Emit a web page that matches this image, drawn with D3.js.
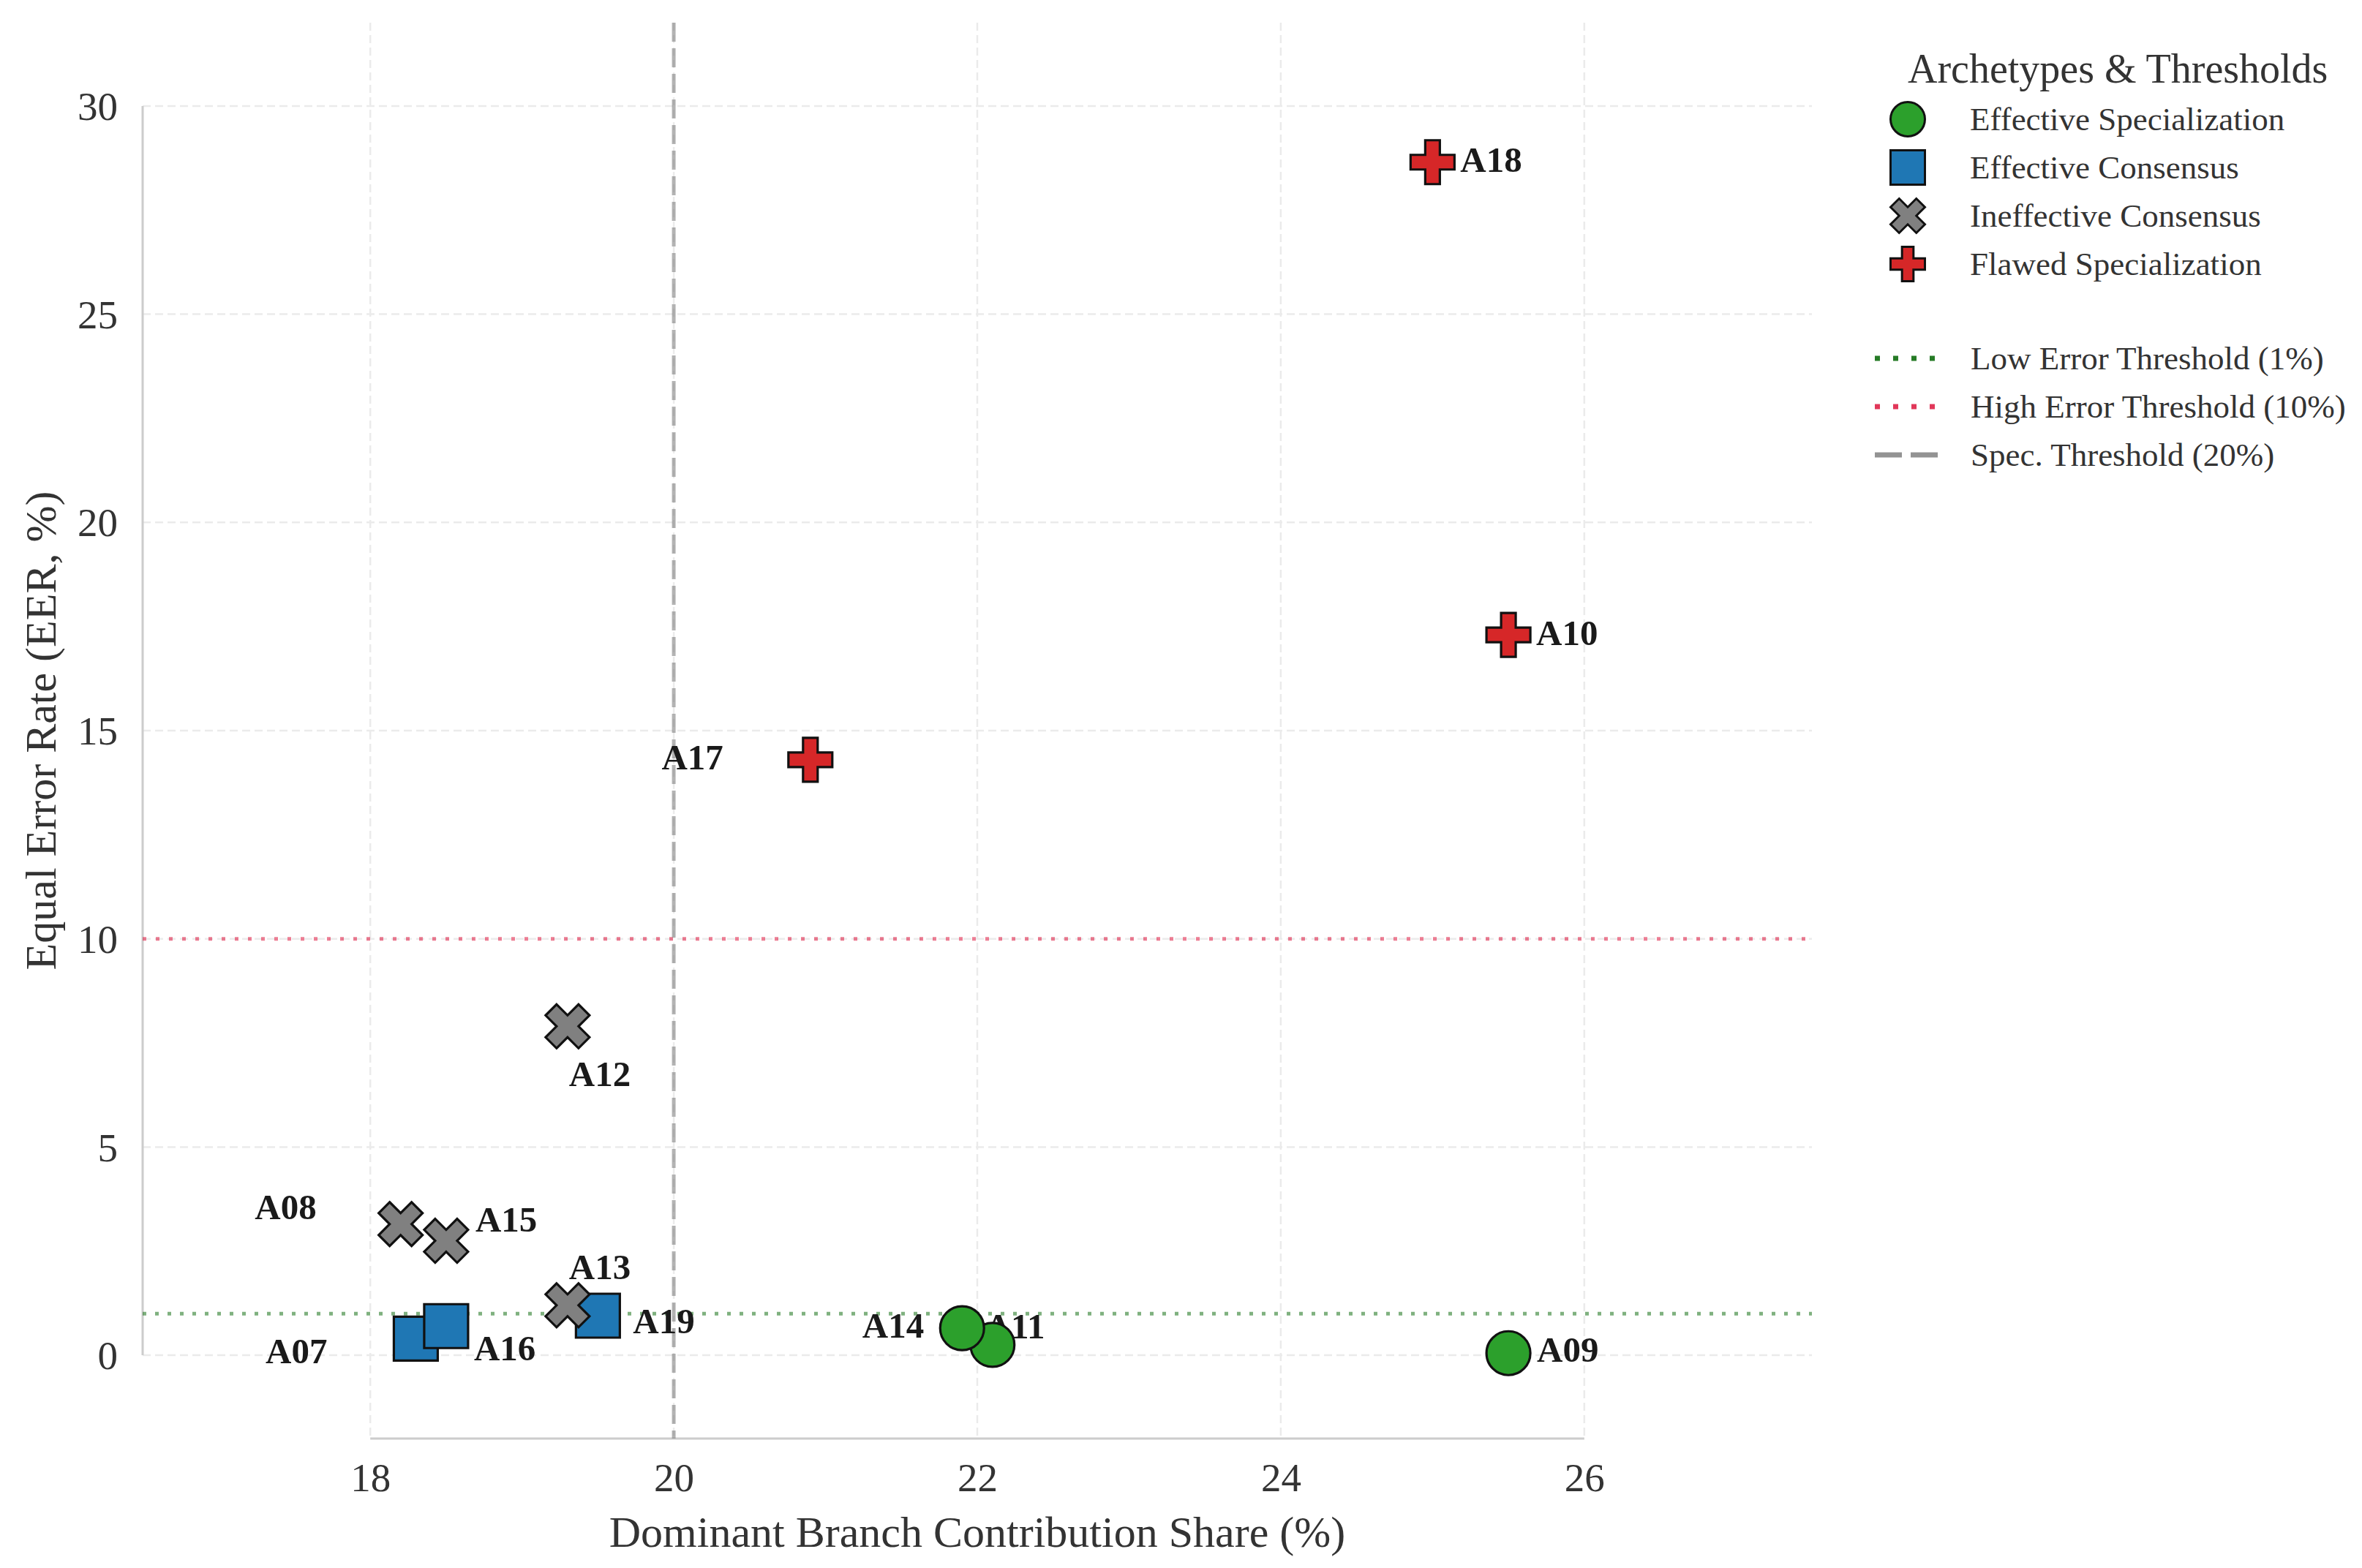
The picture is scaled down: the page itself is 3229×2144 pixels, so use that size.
<!DOCTYPE html>
<html>
<head>
<meta charset="utf-8">
<script src="https://cdn.jsdelivr.net/npm/d3@7/dist/d3.min.js"></script>
<style>
  html, body { margin: 0; padding: 0; background: #ffffff; }
  svg { display: block; }
  text { font-family: "Liberation Serif", "Times New Roman", serif; }
</style>
</head>
<body>
<script>
// ---------------- DATA ----------------
const ids        = ["A07","A08","A09","A10","A11","A12","A13","A14","A15","A16","A17","A18","A19"];
const shareVals  = [18.3, 18.2, 25.5, 25.5, 22.1, 19.3, 19.3, 21.9, 18.5, 18.5, 20.9, 25.0, 19.5];
const eerVals    = [0.4, 3.15, 0.05, 17.3, 0.25, 7.9, 1.2, 0.65, 2.75, 0.7, 14.3, 28.65, 0.95];
const archetypeOf = ["Effective Consensus","Ineffective Consensus","Effective Specialization","Flawed Specialization",
                     "Effective Specialization","Ineffective Consensus","Ineffective Consensus","Effective Specialization",
                     "Ineffective Consensus","Effective Consensus","Flawed Specialization","Flawed Specialization","Effective Consensus"];

const archetypes = ["Effective Specialization","Effective Consensus","Ineffective Consensus","Flawed Specialization"];
const archColors = ["#2ca02c","#1f77b4","#808080","#d62728"];
const archShapes = ["circle","square","xfilled","plusfilled"];

const thresholdLabels = ["Low Error Threshold (1%)","High Error Threshold (10%)","Spec. Threshold (20%)"];
const lowErrThreshold = 1;
const highErrThreshold = 10;
const specThreshold = 20;

const xTicks = [18, 20, 22, 24, 26];
const yTicks = [0, 5, 10, 15, 20, 25, 30];
const xDomain = [16.5, 27.5];
const yDomain = [-2, 32];

const xTitle = "Dominant Branch Contribution Share (%)";
const yTitle = "Equal Error Rate (EER, %)";
const legendTitle = "Archetypes & Thresholds";

// label placement (pixel offsets from marker centre, layout only)
const labelLayout = {
  A07:{dx:-121,dy:17,anchor:"end"},  A08:{dx:-115,dy:-23,anchor:"end"},
  A09:{dx:39,dy:-4,anchor:"start"},  A10:{dx:38,dy:-2,anchor:"start"},
  A11:{dx:-10,dy:-25,anchor:"start"},A12:{dx:2,dy:66,anchor:"start"},
  A13:{dx:2,dy:-52,anchor:"start"},  A14:{dx:-52,dy:-3,anchor:"end"},
  A15:{dx:40,dy:-29,anchor:"start"}, A16:{dx:38,dy:31,anchor:"start"},
  A17:{dx:-119,dy:-3,anchor:"end"},  A18:{dx:38,dy:-3,anchor:"start"},
  A19:{dx:48,dy:8,anchor:"start"}
};

// ---------------- SETUP ----------------
const W = 3229, H = 2144;
const plot = {left:195, right:2477, top:31, bottom:1967};

const svg = d3.select("body").append("svg").attr("width", W).attr("height", H)
  .attr("viewBox", `0 0 ${W} ${H}`);
svg.append("rect").attr("width", W).attr("height", H).attr("fill", "#fff");

const x = d3.scaleLinear().domain(xDomain).range([plot.left, plot.right]);
const y = d3.scaleLinear().domain(yDomain).range([plot.bottom, plot.top]);

// custom symbol types (size = extent^2)
function polySymbol(pts, unit) {
  return { draw(ctx, size) {
    const e = Math.sqrt(size) / unit;
    pts.forEach((p, i) => i ? ctx.lineTo(p[0]*e, p[1]*e) : ctx.moveTo(p[0]*e, p[1]*e));
    ctx.closePath();
  }};
}
const symbolTypes = {
  circle: { draw(ctx, size){ const r = Math.sqrt(size)/2; ctx.moveTo(r,0); ctx.arc(0,0,r,0,2*Math.PI); ctx.closePath(); } },
  square: { draw(ctx, size){ const h = Math.sqrt(size)/2; ctx.rect(-h,-h,2*h,2*h); } },
  plusfilled: polySymbol([[-1,-3],[-1,-1],[-3,-1],[-3,1],[-1,1],[-1,3],[1,3],[1,1],[3,1],[3,-1],[1,-1],[1,-3]], 6),
  xfilled: polySymbol([[-1,-2],[0,-1],[1,-2],[2,-1],[1,0],[2,1],[1,2],[0,1],[-1,2],[-2,1],[-1,0],[-2,-1]], 4)
};
const shapeScale = d3.scaleOrdinal().domain(archetypes).range(archShapes);
const colorScale = d3.scaleOrdinal().domain(archetypes).range(archColors);

// ---------------- GRID ----------------
const grid = svg.append("g");
grid.selectAll("line.hg").data(yTicks).join("line")
  .attr("x1", plot.left).attr("x2", plot.right)
  .attr("y1", d => y(d)).attr("y2", d => y(d))
  .attr("stroke", "#ebebeb").attr("stroke-width", 2.5).attr("stroke-dasharray", "11,6");
grid.selectAll("line.vg").data(xTicks).join("line")
  .attr("x1", d => x(d)).attr("x2", d => x(d))
  .attr("y1", plot.top).attr("y2", plot.bottom)
  .attr("stroke", "#ebebeb").attr("stroke-width", 2.5).attr("stroke-dasharray", "11,6");

// ---------------- AXES (trimmed spines) ----------------
const xAxis = d3.axisBottom(x).tickValues(xTicks).tickSize(0).tickPadding(0).tickFormat(d3.format("d"));
const yAxis = d3.axisLeft(y).tickValues(yTicks).tickSize(0).tickPadding(0).tickFormat(d3.format("d"));

const gx = svg.append("g").attr("transform", `translate(0,${plot.bottom})`).call(xAxis);
gx.select(".domain").remove();
gx.append("line").attr("x1", x(xTicks[0])).attr("x2", x(xTicks[xTicks.length-1]))
  .attr("y1", 0).attr("y2", 0).attr("stroke", "#cccccc").attr("stroke-width", 3);
gx.selectAll(".tick text").attr("y", 72).attr("dy", null)
  .attr("font-size", 55).attr("fill", "#333").attr("font-family", "Liberation Serif");

const gy = svg.append("g").attr("transform", `translate(${plot.left},0)`).call(yAxis);
gy.select(".domain").remove();
gy.append("line").attr("x1", 0).attr("x2", 0)
  .attr("y1", y(yTicks[yTicks.length-1])).attr("y2", y(yTicks[0]))
  .attr("stroke", "#cccccc").attr("stroke-width", 3);
gy.selectAll(".tick text").attr("x", -34).attr("dy", "0.34em")
  .attr("font-size", 55).attr("fill", "#333").attr("font-family", "Liberation Serif");

// axis titles
svg.append("text").attr("x", (plot.left + plot.right)/2).attr("y", 2115)
  .attr("text-anchor", "middle").attr("font-size", 60).attr("fill", "#333").text(xTitle);
svg.append("text").attr("transform", `translate(56,${(plot.top+plot.bottom)/2}) rotate(-90)`)
  .attr("text-anchor", "middle").attr("dy", "0.33em").attr("font-size", 60).attr("fill", "#333").text(yTitle);

// ---------------- THRESHOLD LINES ----------------
const th = svg.append("g");
th.append("line").attr("x1", plot.left).attr("x2", plot.right)
  .attr("y1", y(lowErrThreshold)).attr("y2", y(lowErrThreshold))
  .attr("stroke", "#006400").attr("stroke-opacity", 0.5).attr("stroke-width", 5).attr("stroke-dasharray", "5,12");
th.append("line").attr("x1", plot.left).attr("x2", plot.right)
  .attr("y1", y(highErrThreshold)).attr("y2", y(highErrThreshold))
  .attr("stroke", "#dc143c").attr("stroke-opacity", 0.55).attr("stroke-width", 5).attr("stroke-dasharray", "5,13");
th.append("line").attr("x1", x(specThreshold)).attr("x2", x(specThreshold))
  .attr("y1", plot.top).attr("y2", plot.bottom)
  .attr("stroke", "#808080").attr("stroke-opacity", 0.6).attr("stroke-width", 5).attr("stroke-dasharray", "26,9");

// ---------------- POINTS ----------------
const points = ids.map((id, i) => ({id, share: shareVals[i], eer: eerVals[i], arch: archetypeOf[i]}));
// draw order: by archetype group (legend order), then id
const ordered = [];
archetypes.forEach(a => points.filter(p => p.arch === a).forEach(p => ordered.push(p)));

// labels (under markers)
svg.append("g").selectAll("text").data(points).join("text")
  .attr("x", d => x(d.share) + labelLayout[d.id].dx)
  .attr("y", d => y(d.eer) + labelLayout[d.id].dy)
  .attr("dy", "0.33em")
  .attr("text-anchor", d => labelLayout[d.id].anchor)
  .attr("font-size", 49).attr("font-weight", "bold").attr("fill", "#1a1a1a")
  .text(d => d.id);

const sym = d3.symbol();
svg.append("g").selectAll("path").data(ordered).join("path")
  .attr("transform", d => `translate(${x(d.share)},${y(d.eer)})`)
  .attr("d", d => sym.type(symbolTypes[shapeScale(d.arch)]).size(60*60)())
  .attr("fill", d => colorScale(d.arch))
  .attr("stroke", "#111").attr("stroke-width", 3.2).attr("stroke-linejoin", "miter");

// ---------------- LEGEND ----------------
const lg = svg.append("g");
lg.append("text").attr("x", 2608).attr("y", 113).attr("font-size", 56).attr("fill", "#333").text(legendTitle);

const rowY = d3.scalePoint().domain(d3.range(4)).range([163, 361]);
const lItems = lg.selectAll("g.item").data(archetypes).join("g")
  .attr("transform", (d, i) => `translate(0,${rowY(i)})`);
lItems.append("path")
  .attr("transform", "translate(2608,0)")
  .attr("d", d => sym.type(symbolTypes[shapeScale(d)]).size(47*47)())
  .attr("fill", d => colorScale(d)).attr("stroke", "#111").attr("stroke-width", 3);
lItems.append("text").attr("x", 2693).attr("dy", "0.33em").attr("font-size", 45).attr("fill", "#333").text(d => d);

const lineRowY = d3.scalePoint().domain(d3.range(3)).range([490, 622]);
const lineStyles = [
  {stroke:"#006400", op:0.85, w:7, dash:"7,18"},
  {stroke:"#dc143c", op:0.85, w:7, dash:"7,18"},
  {stroke:"#808080", op:0.85, w:7, dash:"37,12"}
];
const lLines = lg.selectAll("g.litem").data(thresholdLabels).join("g")
  .attr("transform", (d, i) => `translate(0,${lineRowY(i)})`);
lLines.append("line").attr("x1", 2563).attr("x2", 2649).attr("y1", 0).attr("y2", 0)
  .attr("stroke", (d, i) => lineStyles[i].stroke).attr("stroke-opacity", (d, i) => lineStyles[i].op)
  .attr("stroke-width", (d, i) => lineStyles[i].w).attr("stroke-dasharray", (d, i) => lineStyles[i].dash);
lLines.append("text").attr("x", 2694).attr("dy", "0.33em").attr("font-size", 45).attr("fill", "#333").text(d => d);
</script>
</body>
</html>
